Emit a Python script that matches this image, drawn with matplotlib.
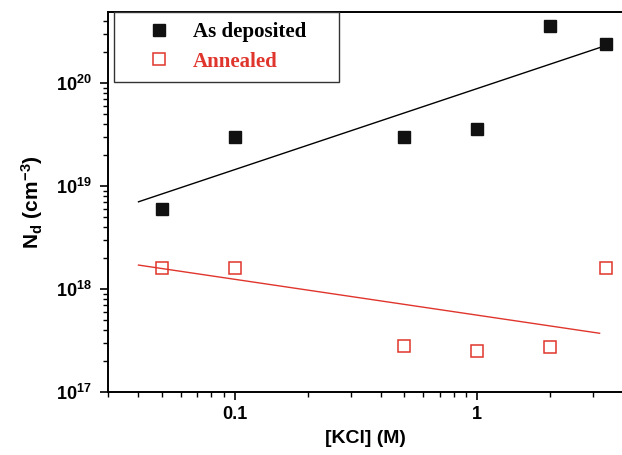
import numpy as np
import matplotlib
matplotlib.use("Agg")
import matplotlib.pyplot as plt
from matplotlib.ticker import FuncFormatter, LogLocator, NullFormatter

plt.rcParams['font.family'] = ['Liberation Sans', 'DejaVu Sans']
plt.rcParams['mathtext.fontset'] = 'custom'
plt.rcParams['mathtext.rm'] = 'Liberation Sans:bold'
plt.rcParams['mathtext.bf'] = 'Liberation Sans:bold'
plt.rcParams['mathtext.it'] = 'Liberation Sans:bold'

# KCl concentration (M)
kcl = [0.05, 0.1, 0.5, 1.0, 2.0, 3.4]
# donor density (cm^-3)
as_deposited = [5.9e18, 3.0e19, 3.0e19, 3.6e19, 3.6e20, 2.4e20]
annealed = [1.6e18, 1.6e18, 2.8e17, 2.5e17, 2.7e17, 1.6e18]

# fitted trend lines (end points)
fit_x = [0.04, 3.2]
fit_dep = [7.0e18, 2.2e20]
fit_ann = [1.7e18, 3.7e17]

red = '#e0352c'

fig = plt.figure(figsize=(6.22, 4.55), dpi=100)
ax = fig.add_axes([0.174, 0.139, 0.826, 0.835])

ax.plot(fit_x, fit_dep, color='black', lw=1.0)
ax.plot(fit_x, fit_ann, color=red, lw=1.0)
h1, = ax.plot(kcl, as_deposited, 's', color='#111111', ms=8, mec='#111111',
              linestyle='none', label='As deposited')
h2, = ax.plot(kcl, annealed, 's', mfc='none', mec=red, mew=1.1, ms=8,
              linestyle='none', label='Annealed')

ax.set_xscale('log')
ax.set_yscale('log')
ax.set_xlim(0.03, 3.96)
ax.set_ylim(1e17, 4.9e20)

ax.xaxis.set_major_locator(LogLocator(base=10, numticks=10))
ax.xaxis.set_minor_locator(LogLocator(base=10, subs=np.arange(2, 10), numticks=10))
ax.xaxis.set_major_formatter(FuncFormatter(lambda v, p: '%g' % v))
ax.xaxis.set_minor_formatter(NullFormatter())
ax.yaxis.set_major_formatter(FuncFormatter(lambda v, p: r'$10^{%d}$' % round(np.log10(v))))
ax.yaxis.set_minor_formatter(NullFormatter())

ax.tick_params(which='major', direction='out', length=6, width=1.2, labelsize=13)
ax.tick_params(which='minor', direction='out', length=3.5, width=1.0)
ax.tick_params(axis='x', which='major', pad=4)
ax.tick_params(axis='y', which='major', pad=6)
for lab in ax.get_xticklabels():
    lab.set_fontweight('bold')

for side in ['left', 'bottom', 'top']:
    ax.spines[side].set_linewidth(1.4)
ax.spines['right'].set_visible(False)

ax.set_xlabel('[KCl] (M)', fontsize=14, fontweight='bold', labelpad=5)
ax.set_ylabel(r'$N_d\ (cm^{-3})$', fontsize=15, labelpad=8)

leg = ax.legend(handles=[h1, h2], loc='upper left', mode='expand',
                bbox_to_anchor=(0.011, 0.0, 0.438, 1.0),
                prop={'family': 'Liberation Serif', 'weight': 'bold', 'size': 15},
                labelcolor=['black', red], fancybox=False, edgecolor='#333333',
                framealpha=1, borderpad=0.5, handletextpad=0.0, labelspacing=0.45,
                borderaxespad=0, handlelength=3.3, markerscale=1.1)
leg.get_frame().set_linewidth(1.0)

fig.savefig('out.png', dpi=100)
